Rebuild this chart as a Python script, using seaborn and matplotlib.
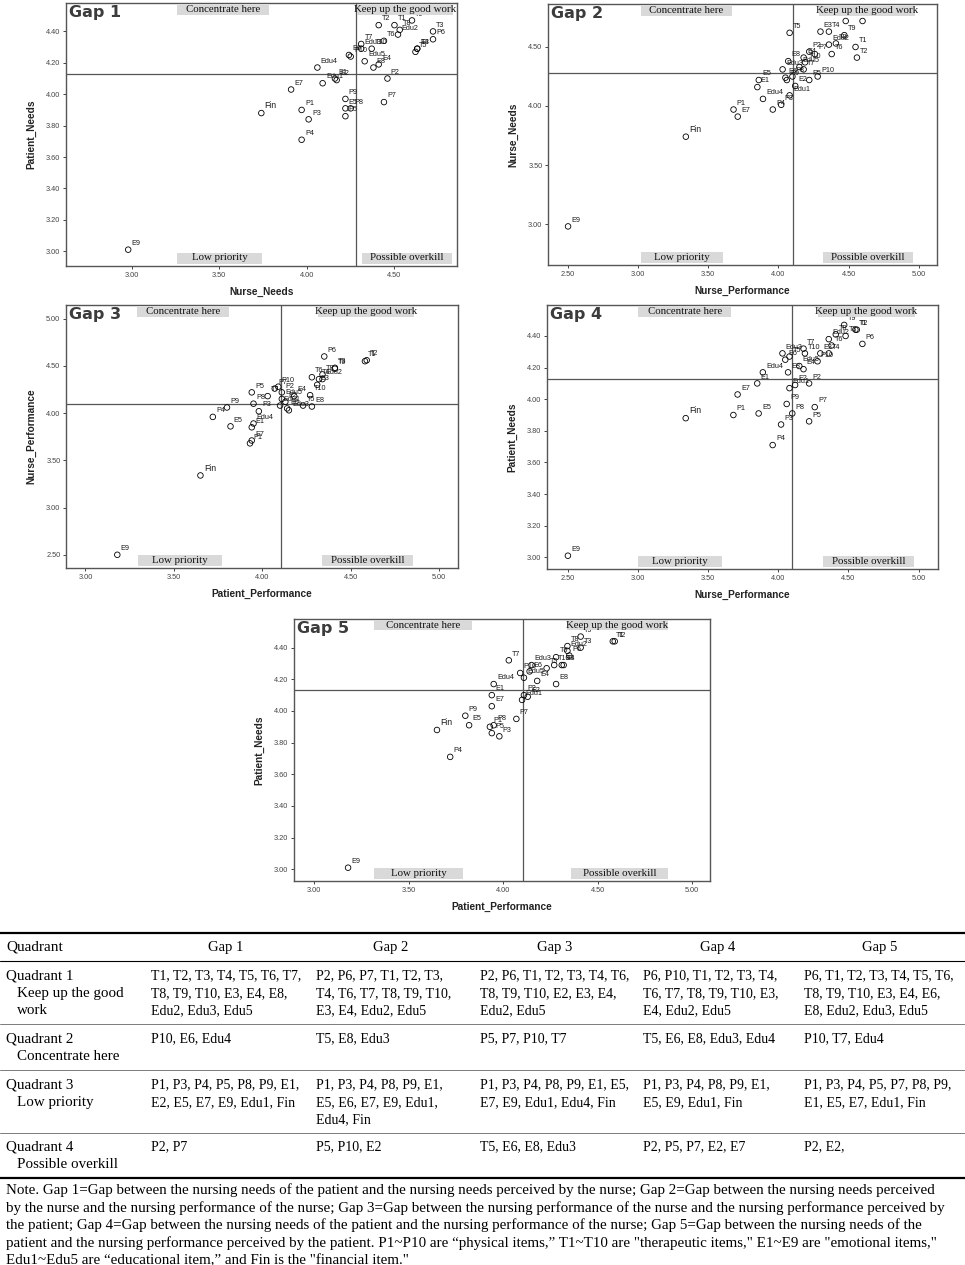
import numpy as np
import pandas as pd
import seaborn as sns
import matplotlib.pyplot as plt
from matplotlib.patches import Rectangle
from matplotlib.lines import Line2D

# Item scores (mean ratings)
items = ['P1', 'P2', 'P3', 'P4', 'P5', 'P6', 'P7', 'P8', 'P9', 'P10',
         'T1', 'T2', 'T3', 'T4', 'T5', 'T6', 'T7', 'T8', 'T9', 'T10',
         'E1', 'E2', 'E3', 'E4', 'E5', 'E6', 'E7', 'E8', 'E9',
         'Edu1', 'Edu2', 'Edu3', 'Edu4', 'Edu5', 'Fin']
patient_needs = [3.90, 4.10, 3.84, 3.71, 3.86, 4.35, 3.95, 3.91, 3.97, 4.24,
                 4.44, 4.44, 4.40, 4.29, 4.27, 4.34, 4.32, 4.41, 4.47, 4.29,
                 4.10, 4.09, 4.29, 4.19, 3.91, 4.25, 4.03, 4.17, 3.01,
                 4.07, 4.38, 4.29, 4.17, 4.21, 3.88]
nurse_needs = [3.97, 4.46, 4.01, 3.97, 4.22, 4.72, 4.44, 4.25, 4.22, 4.25,
               4.50, 4.41, 4.72, 4.63, 4.62, 4.44, 4.31, 4.53, 4.60, 4.37,
               4.16, 4.17, 4.63, 4.41, 4.22, 4.24, 3.91, 4.38, 2.98,
               4.09, 4.52, 4.31, 4.06, 4.33, 3.74]
nurse_performance = [3.68, 4.22, 4.02, 3.96, 4.22, 4.60, 4.26, 4.10, 4.06, 4.28,
                     4.55, 4.56, 4.48, 4.36, 4.08, 4.38, 4.18, 4.41, 4.47, 4.19,
                     3.85, 4.12, 4.30, 4.18, 3.86, 4.05, 3.71, 4.07, 2.50,
                     4.08, 4.36, 4.03, 3.89, 4.15, 3.34]
patient_performance = [3.93, 4.11, 3.98, 3.72, 3.94, 4.35, 4.07, 3.95, 3.80, 4.09,
                       4.58, 4.59, 4.41, 4.32, 4.23, 4.28, 4.03, 4.34, 4.41, 4.27,
                       3.94, 4.13, 4.31, 4.18, 3.82, 4.14, 3.94, 4.28, 3.18,
                       4.10, 4.34, 4.15, 3.95, 4.11, 3.65]

df = pd.DataFrame({'Item': items,
                   'Patient_Needs': patient_needs,
                   'Nurse_Needs': nurse_needs,
                   'Nurse_Performance': nurse_performance,
                   'Patient_Performance': patient_performance})

# Table text
header = ['Quadrant', 'Gap 1', 'Gap 2', 'Gap 3', 'Gap 4', 'Gap 5']
quadrant_names = ['Quadrant 1', 'Quadrant 2', 'Quadrant 3', 'Quadrant 4']
quadrant_desc = [['Keep up the good', 'work'], ['Concentrate here'],
                 ['Low priority'], ['Possible overkill']]
q1_cells = [['T1, T2, T3, T4, T5, T6, T7,', 'T8, T9, T10, E3, E4, E8,', 'Edu2, Edu3, Edu5'],
            ['P2, P6, P7, T1, T2, T3,', 'T4, T6, T7, T8, T9, T10,', 'E3, E4, Edu2, Edu5'],
            ['P2, P6, T1, T2, T3, T4, T6,', 'T8, T9, T10, E2, E3, E4,', 'Edu2, Edu5'],
            ['P6, P10, T1, T2, T3, T4,', 'T6, T7, T8, T9, T10, E3,', 'E4, Edu2, Edu5'],
            ['P6, T1, T2, T3, T4, T5, T6,', 'T8, T9, T10, E3, E4, E6,', 'E8, Edu2, Edu3, Edu5']]
q2_cells = [['P10, E6, Edu4'], ['T5, E8, Edu3'], ['P5, P7, P10, T7'],
            ['T5, E6, E8, Edu3, Edu4'], ['P10, T7, Edu4']]
q3_cells = [['P1, P3, P4, P5, P8, P9, E1,', 'E2, E5, E7, E9, Edu1, Fin'],
            ['P1, P3, P4, P8, P9, E1,', 'E5, E6, E7, E9, Edu1,', 'Edu4, Fin'],
            ['P1, P3, P4, P8, P9, E1, E5,', 'E7, E9, Edu1, Edu4, Fin'],
            ['P1, P3, P4, P8, P9, E1,', 'E5, E9, Edu1, Fin'],
            ['P1, P3, P4, P5, P7, P8, P9,', 'E1, E5, E7, Edu1, Fin']]
q4_cells = [['P2, P7'], ['P5, P10, E2'], ['T5, E6, E8, Edu3'],
            ['P2, P5, P7, E2, E7'], ['P2, E2,']]
note_lines = [
    'Note. Gap 1=Gap between the nursing needs of the patient and the nursing needs perceived by the nurse; Gap 2=Gap between the nursing needs perceived',
    'by the nurse and the nursing performance of the nurse; Gap 3=Gap between the nursing performance of the nurse and the nursing performance perceived by',
    'the patient; Gap 4=Gap between the nursing needs of the patient and the nursing performance of the nurse; Gap 5=Gap between the nursing needs of the',
    'patient and the nursing performance perceived by the patient. P1~P10 are \u201cphysical items,\u201d T1~T10 are "therapeutic items," E1~E9 are "emotional items,"',
    'Edu1~Edu5 are \u201ceducational item,\u201d and Fin is the "financial item."',
]

sns.set_theme(style='white')
plt.rcParams['font.family'] = ['Liberation Sans', 'DejaVu Sans']

W, H = 965, 1265
fig = plt.figure(figsize=(W / 100, H / 100), dpi=100)


def px_axes(left, top, right, bottom):
    return fig.add_axes([left / W, 1 - bottom / H, (right - left) / W, (bottom - top) / H])


# panel: title, x, y, box(px), xlim, ylim, xticks, yticks, quadrant-box x ranges (axes frac)
panels = [
    ('Gap 1', 'Nurse_Needs', 'Patient_Needs', (66, 3, 457, 266), (2.625, 4.857), (2.906, 4.581),
     np.arange(3.0, 4.51, 0.5), np.arange(3.0, 4.41, 0.2),
     [(0.284, 0.519), (0.744, 0.990), (0.284, 0.501), (0.757, 0.987)]),
    ('Gap 2', 'Nurse_Performance', 'Nurse_Needs', (548, 4, 937, 265), (2.357, 5.131), (2.653, 4.864),
     np.arange(2.5, 5.01, 0.5), np.arange(3.0, 4.51, 0.5),
     [(0.239, 0.473), (0.697, 0.943), (0.239, 0.450), (0.707, 0.938)]),
    ('Gap 3', 'Patient_Performance', 'Nurse_Performance', (66, 305, 458, 568), (2.89, 5.106), (2.36, 5.145),
     np.arange(3.0, 5.01, 0.5), np.arange(2.5, 5.01, 0.5),
     [(0.181, 0.416), (0.643, 0.888), (0.184, 0.398), (0.653, 0.885)]),
    ('Gap 4', 'Nurse_Performance', 'Patient_Needs', (547, 305, 938, 569), (2.351, 5.139), (2.926, 4.596),
     np.arange(2.5, 5.01, 0.5), np.arange(3.0, 4.41, 0.2),
     [(0.233, 0.471), (0.693, 0.941), (0.233, 0.448), (0.706, 0.939)]),
    ('Gap 5', 'Patient_Performance', 'Patient_Needs', (294, 619, 710, 881), (2.894, 5.094), (2.926, 4.581),
     np.arange(3.0, 5.01, 0.5), np.arange(3.0, 4.41, 0.2),
     [(0.192, 0.428), (0.656, 0.899), (0.192, 0.406), (0.666, 0.899)]),
]
quad_text = ['Concentrate here', 'Keep up the good work', 'Low priority', 'Possible overkill']

for title, xv, yv, box, xlim, ylim, xt, yt, qx in panels:
    ax = px_axes(*box)
    h_px = box[3] - box[1]
    sns.scatterplot(data=df, x=xv, y=yv, ax=ax, marker='o', s=16,
                    facecolor='none', edgecolor='black', linewidth=0.6, zorder=3)
    for _, r in df.iterrows():
        fs = 6.2 if r['Item'] == 'Fin' else 5.2
        ax.annotate(r['Item'], (r[xv], r[yv]), xytext=(2.4, 2.0), textcoords='offset points',
                    fontsize=fs, ha='left', va='bottom', color='#1a1a1a', zorder=4)
    ax.axvline(df[xv].mean(), color='#555555', lw=0.9, zorder=2)
    ax.axhline(df[yv].mean(), color='#555555', lw=0.9, zorder=2)
    ax.set_xlim(*xlim)
    ax.set_ylim(*ylim)
    ax.set_xticks(xt)
    ax.set_yticks(yt)
    ax.set_xticklabels(['%.2f' % v for v in xt])
    ax.set_yticklabels(['%.2f' % v for v in yt])
    ax.tick_params(bottom=True, left=True, direction='out', length=2.5, width=0.7,
                   colors='#444444', labelsize=5.3, pad=1.5)
    for sp in ax.spines.values():
        sp.set_color('#555555')
        sp.set_linewidth(1.0)
    ax.set_xlabel(xv, fontsize=7.3, fontweight='bold', color='#222222', labelpad=6)
    ax.set_ylabel(yv, fontsize=7.3, fontweight='bold', color='#222222', labelpad=7)
    ax.text(0.008, 0.992, title, transform=ax.transAxes, ha='left', va='top',
            fontsize=11.5, fontweight='bold', color='#3c3c3c', family='DejaVu Sans', zorder=6)
    top0, top1 = 1 - 11.5 / h_px, 1 - 1.5 / h_px
    bot0, bot1 = 2.5 / h_px, 13.5 / h_px
    for (x0, x1), txt, (y0, y1) in zip(qx, quad_text, [(top0, top1), (top0, top1), (bot0, bot1), (bot0, bot1)]):
        ax.add_patch(Rectangle((x0, y0), x1 - x0, y1 - y0, transform=ax.transAxes,
                               facecolor='#d9d9d9', edgecolor='none', zorder=5))
        ax.text((x0 + x1) / 2, (y0 + y1) / 2, txt, transform=ax.transAxes, ha='center',
                va='center', fontsize=7.8, family='Liberation Serif', color='#111111', zorder=6)


# Table under the charts
def ftext(x, y, s, size=10, **kw):
    fig.text(x / W, 1 - y / H, s, va='center', family='Liberation Serif', fontsize=size,
             color='black', **kw)


def hline(y, lw, color='black'):
    fig.add_artist(Line2D([0, 1], [1 - y / H, 1 - y / H], color=color, lw=lw))


col_left = [151, 316, 480, 643, 804]
col_center = [226, 391, 555, 718, 880]
line_h = 17.5

hline(933, 1.6)
hline(961, 0.8)
ftext(6, 947, header[0], size=11, ha='left')
for cx, s in zip(col_center, header[1:]):
    ftext(cx, 947, s, size=10.5, ha='center')

row_tops = [976, 1039, 1085, 1147]
row_rules = [1024, 1070, 1133]
for name, desc, cells, y0 in zip(quadrant_names, quadrant_desc,
                                  [q1_cells, q2_cells, q3_cells, q4_cells], row_tops):
    ftext(6, y0, name, size=10.8, ha='left')
    for i, d in enumerate(desc):
        ftext(17, y0 + line_h * (i + 1), d, size=10.8, ha='left')
    for cx, cell in zip(col_left, cells):
        for i, s in enumerate(cell):
            ftext(cx, y0 + line_h * i, s, ha='left')
for y in row_rules:
    hline(y, 0.6, '#666666')
hline(1178, 1.6)

for i, s in enumerate(note_lines):
    ftext(6, 1190 + 17.7 * i, s, size=10.85, ha='left')

fig.savefig('out.png', dpi=100)
